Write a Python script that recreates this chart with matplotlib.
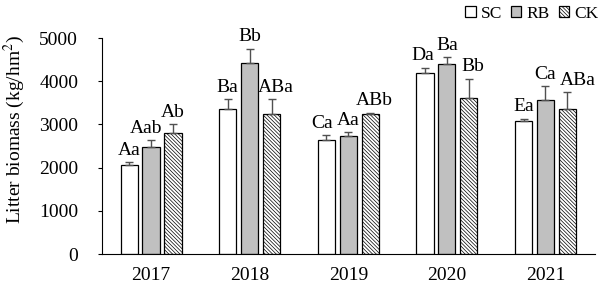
import matplotlib.pyplot as plt
import numpy as np

plt.rcParams["font.family"] = ["Liberation Serif", "DejaVu Serif"]
plt.rcParams["mathtext.fontset"] = "stix"
plt.rcParams["hatch.linewidth"] = 0.5
plt.rcParams["hatch.color"] = "#303030"

years = ["2017", "2018", "2019", "2020", "2021"]
treatments = ["SC", "RB", "CK"]

# means and upper error (kg/hm2)
sc_mean = [2050, 3350, 2650, 4200, 3090]
sc_err = [70, 230, 95, 110, 45]
rb_mean = [2480, 4430, 2730, 4390, 3560]
rb_err = [150, 320, 85, 160, 320]
ck_mean = [2790, 3230, 3250, 3620, 3350]
ck_err = [210, 360, 20, 440, 390]

sc_labels = ["Aa", "Ba", "Ca", "Da", "Ea"]
rb_labels = ["Aab", "Bb", "Aa", "Ba", "Ca"]
ck_labels = ["Ab", "ABa", "ABb", "Bb", "ABa"]

# small sideways nudges for crowded letters (series index, year index) -> x shift
nudge = {(0, 2): -0.04, (2, 1): 0.04, (2, 2): 0.04, (2, 3): 0.04, (2, 4): 0.11,
         (0, 3): -0.02, (1, 0): -0.05}

fig = plt.figure(figsize=(6.02, 2.88), dpi=100)
ax = fig.add_axes([0.169, 0.118, 0.819, 0.75])

x = np.arange(len(years)) + 0.5
width = 0.175
step = 0.222

series = [
    (sc_mean, sc_err, sc_labels, dict(facecolor="white")),
    (rb_mean, rb_err, rb_labels, dict(facecolor="#c0c0c0")),
    (ck_mean, ck_err, ck_labels, dict(facecolor="white", hatch="\\" * 9)),
]

for i, (mean, err, labels, style) in enumerate(series):
    pos = x + (i - 1) * step
    ax.bar(pos, mean, width, edgecolor="black", linewidth=0.9,
           label=treatments[i], **style)
    ax.errorbar(pos, mean, yerr=[np.zeros(len(err)), err], fmt="none",
                ecolor="#505050", elinewidth=1, capsize=3, capthick=1)
    for j, (p, m, e, t) in enumerate(zip(pos, mean, err, labels)):
        ax.text(p + nudge.get((i, j), 0), m + e + 170, t, ha="center",
                va="baseline", fontsize=14)

ax.set_xlim(0, 5)
ax.set_ylim(0, 5000)
ax.set_xticks(x)
ax.set_xticklabels(years, fontsize=14)
ax.set_yticks(np.arange(0, 5001, 1000))
ax.tick_params(axis="y", labelsize=14, direction="out", length=3, width=0.8, pad=14)
ax.tick_params(axis="x", length=0, pad=9)
ax.spines["top"].set_visible(False)
ax.spines["right"].set_visible(False)
ax.spines["left"].set_linewidth(0.8)
ax.spines["bottom"].set_linewidth(0.8)
ax.set_ylabel("Litter biomass (kg/hm$^2$)", fontsize=14)
ax.yaxis.set_label_coords(-0.152, 0.575)

fig.legend(loc="upper right", bbox_to_anchor=(1.02, 1.035), ncol=3, frameon=False,
           fontsize=12.5, handlelength=0.6, handleheight=0.6, handletextpad=0.3,
           columnspacing=0.5)

fig.savefig("out.png", dpi=100)
plt.close(fig)
